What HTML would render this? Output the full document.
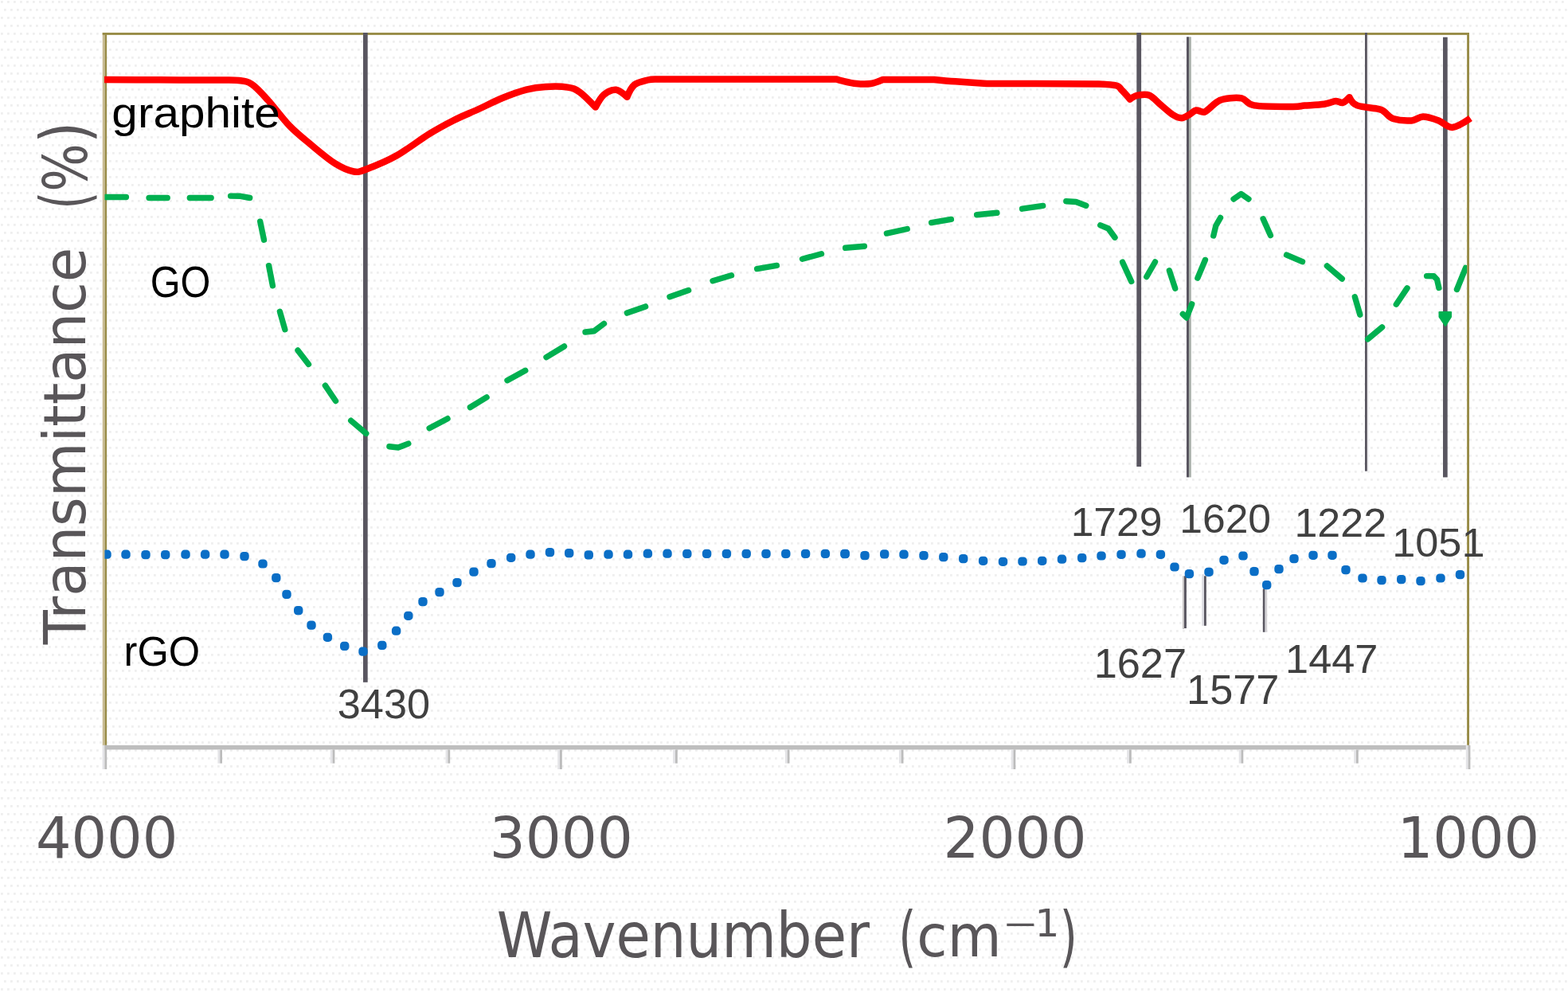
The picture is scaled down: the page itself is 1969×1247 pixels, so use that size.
<!DOCTYPE html>
<html><head><meta charset="utf-8"><title>FTIR spectra</title>
<style>
html,body{margin:0;padding:0;background:#fff;}
body{width:1969px;height:1247px;overflow:hidden;}
svg{display:block;}
text{font-family:"Liberation Sans",sans-serif;}
text.ax{font-family:"DejaVu Sans Condensed","DejaVu Sans","Liberation Sans",sans-serif;font-stretch:condensed;}
</style></head><body>
<svg width="1969" height="1247" viewBox="0 0 1969 1247">
<defs><clipPath id="plot"><rect x="131.5" y="44" width="1710.6" height="892"/></clipPath>
<pattern id="dither" width="16" height="20" patternUnits="userSpaceOnUse"><rect x="1" y="1" width="2.8" height="2.8" fill="#efefef"/><rect x="9" y="1" width="2.8" height="2.8" fill="#efefef"/><rect x="5" y="11" width="2.8" height="2.8" fill="#efefef"/><rect x="13" y="11" width="2.8" height="2.8" fill="#efefef"/></pattern></defs>
<rect width="1969" height="1247" fill="#ffffff"/>
<rect width="1969" height="1247" fill="url(#dither)"/>

<g shape-rendering="auto">
<rect x="128.70" y="41.00" width="2.80" height="895.00" fill="#c9bc94"/>
<rect x="131.50" y="41.00" width="2.60" height="895.00" fill="#998c48"/>
<rect x="128.70" y="41.00" width="1716.30" height="2.90" fill="#988c47"/>
<rect x="1842.10" y="41.00" width="2.90" height="895.00" fill="#988c47"/>
<rect x="131.50" y="935.80" width="1713.50" height="5.60" fill="#bebebe"/>
<rect x="128.60" y="935.80" width="2.80" height="30.20" fill="#e4e4e7"/>
<rect x="131.40" y="935.80" width="2.80" height="30.20" fill="#bcbcbc"/>
<rect x="273.40" y="941.40" width="2.80" height="17.20" fill="#e4e4e7"/>
<rect x="276.20" y="941.40" width="2.80" height="17.20" fill="#bcbcbc"/>
<rect x="414.80" y="941.40" width="2.80" height="17.20" fill="#e4e4e7"/>
<rect x="417.60" y="941.40" width="2.80" height="17.20" fill="#bcbcbc"/>
<rect x="559.60" y="941.40" width="2.80" height="17.20" fill="#e4e4e7"/>
<rect x="562.40" y="941.40" width="2.80" height="17.20" fill="#bcbcbc"/>
<rect x="700.20" y="941.40" width="2.80" height="24.60" fill="#e4e4e7"/>
<rect x="703.00" y="941.40" width="2.80" height="24.60" fill="#bcbcbc"/>
<rect x="845.20" y="941.40" width="2.80" height="17.20" fill="#e4e4e7"/>
<rect x="848.00" y="941.40" width="2.80" height="17.20" fill="#bcbcbc"/>
<rect x="985.90" y="941.40" width="2.80" height="17.20" fill="#e4e4e7"/>
<rect x="988.70" y="941.40" width="2.80" height="17.20" fill="#bcbcbc"/>
<rect x="1128.90" y="941.40" width="2.80" height="17.20" fill="#e4e4e7"/>
<rect x="1131.70" y="941.40" width="2.80" height="17.20" fill="#bcbcbc"/>
<rect x="1269.70" y="941.40" width="2.80" height="24.60" fill="#e4e4e7"/>
<rect x="1272.50" y="941.40" width="2.80" height="24.60" fill="#bcbcbc"/>
<rect x="1415.20" y="941.40" width="2.80" height="17.20" fill="#e4e4e7"/>
<rect x="1418.00" y="941.40" width="2.80" height="17.20" fill="#bcbcbc"/>
<rect x="1555.70" y="941.40" width="2.80" height="17.20" fill="#e4e4e7"/>
<rect x="1558.50" y="941.40" width="2.80" height="17.20" fill="#bcbcbc"/>
<rect x="1700.20" y="941.40" width="2.80" height="17.20" fill="#e4e4e7"/>
<rect x="1703.00" y="941.40" width="2.80" height="17.20" fill="#bcbcbc"/>
<rect x="1840.80" y="935.80" width="2.80" height="30.20" fill="#e4e4e7"/>
<rect x="1843.60" y="935.80" width="2.80" height="30.20" fill="#bcbcbc"/>
<rect x="456.00" y="41.00" width="5.70" height="815.80" fill="#595660"/>
<rect x="1427.30" y="41.00" width="5.80" height="545.00" fill="#595660"/>
<rect x="1490.00" y="46.30" width="3.00" height="553.10" fill="#595660"/>
<rect x="1493.00" y="46.30" width="2.80" height="553.10" fill="#a9b0aa"/>
<rect x="1714.00" y="41.00" width="2.90" height="550.70" fill="#595660"/>
<rect x="1716.90" y="44.00" width="2.10" height="547.70" fill="#f0f0f2"/>
<rect x="1812.00" y="46.70" width="5.70" height="552.70" fill="#595660"/>
<rect x="1484.90" y="723.30" width="2.10" height="66.70" fill="#c9c6c6"/>
<rect x="1487.00" y="723.30" width="2.90" height="65.70" fill="#595660"/>
<rect x="1509.20" y="721.20" width="2.80" height="64.60" fill="#dcdce2"/>
<rect x="1512.00" y="723.30" width="2.80" height="62.50" fill="#595660"/>
<rect x="1585.80" y="739.40" width="2.80" height="54.40" fill="#595660"/>
<rect x="1588.60" y="739.40" width="2.60" height="54.40" fill="#d4d2d6"/>
</g>
<path d="M131.0,100.0 C131.0,100.0 176.8,100.2 200.0,100.3 C223.2,100.4 253.4,100.5 270.0,100.6 C286.6,100.7 291.9,100.1 299.7,101.0 C307.4,101.9 310.3,101.8 316.5,106.0 C322.7,110.2 328.8,117.3 336.7,126.0 C344.6,134.7 354.6,148.7 363.6,158.0 C372.6,167.3 381.1,173.9 390.6,181.8 C400.2,189.7 411.9,199.8 420.9,205.4 C429.9,211.0 437.7,214.4 444.4,215.5 C451.1,216.6 452.3,215.4 461.3,212.0 C470.3,208.6 485.4,202.6 498.3,195.3 C511.2,188.0 526.8,175.8 538.7,168.4 C550.7,161.0 559.8,156.2 570.0,151.0 C580.2,145.8 589.9,142.1 600.0,137.5 C610.1,132.9 620.4,127.4 630.5,123.3 C640.6,119.2 651.8,115.1 660.9,112.7 C670.0,110.3 676.7,109.5 685.3,109.0 C693.9,108.5 705.6,108.5 712.7,109.6 C719.8,110.7 722.1,111.5 728.0,115.7 C733.9,119.9 747.8,134.6 747.8,134.6 C747.8,134.6 754.2,122.4 758.5,118.8 C762.8,115.2 768.9,112.2 773.7,112.7 C778.5,113.2 787.4,121.8 787.4,121.8 C787.4,121.8 792.2,110.1 796.5,106.6 C800.8,103.0 808.5,101.7 813.3,100.5 C818.1,99.3 825.5,99.6 825.5,99.6 C825.5,99.6 1000.0,99.6 1000.0,99.6 C1000.0,99.6 1051.0,99.6 1051.0,99.6 C1051.0,99.6 1052.9,100.5 1057.0,101.4 C1061.1,102.3 1069.3,104.4 1075.4,105.0 C1081.5,105.6 1088.0,105.8 1093.6,105.0 C1099.2,104.2 1108.9,99.9 1108.9,99.9 C1108.9,99.9 1172.9,99.9 1172.9,99.9 C1172.9,99.9 1189.0,101.5 1200.0,102.3 C1211.0,103.1 1239.0,105.0 1239.0,105.0 C1239.0,105.0 1300.0,105.0 1300.0,105.0 C1300.0,105.0 1380.0,105.5 1380.0,105.5 C1380.0,105.5 1397.2,106.2 1402.0,107.5 C1406.8,108.8 1406.2,110.8 1409.0,113.6 C1411.8,116.4 1419.0,124.6 1419.0,124.6 C1419.0,124.6 1424.7,120.5 1428.8,119.7 C1432.9,118.9 1438.5,117.7 1443.4,119.7 C1448.3,121.8 1453.1,128.0 1458.0,132.0 C1462.9,136.1 1468.3,141.3 1472.6,144.0 C1476.9,146.7 1480.1,148.2 1483.6,148.2 C1487.1,148.2 1490.3,145.6 1493.4,144.0 C1496.5,142.4 1498.8,139.1 1502.0,138.5 C1505.2,137.9 1508.9,141.9 1512.9,140.4 C1517.0,138.9 1522.5,132.1 1526.3,129.5 C1530.1,126.9 1530.5,125.6 1536.0,124.6 C1541.5,123.6 1552.7,122.1 1559.2,123.4 C1565.7,124.7 1564.2,130.7 1575.0,132.4 C1585.8,134.2 1613.2,133.9 1623.8,133.9 C1634.4,133.9 1631.9,133.1 1638.4,132.6 C1644.9,132.1 1656.3,131.6 1662.8,130.7 C1669.3,129.8 1673.5,127.3 1677.4,127.0 C1681.3,126.7 1683.2,129.8 1686.0,129.0 C1688.8,128.2 1694.5,122.2 1694.5,122.2 C1694.5,122.2 1698.1,130.0 1704.2,132.4 C1710.3,134.8 1725.3,135.5 1731.0,136.8 C1736.7,138.1 1735.4,138.4 1738.4,140.4 C1741.5,142.4 1743.6,147.2 1749.3,149.0 C1755.0,150.8 1766.2,151.8 1772.5,151.4 C1778.8,151.0 1781.4,146.5 1787.1,146.5 C1792.8,146.5 1800.5,149.2 1806.6,151.4 C1812.7,153.7 1817.0,160.5 1823.7,160.0 C1830.4,159.5 1846.5,148.5 1846.5,148.5" fill="none" stroke="#ff0000" stroke-width="8.5" stroke-linejoin="round" stroke-linecap="butt"/>
<g clip-path="url(#plot)">
<g fill="none" stroke="#00b050" stroke-width="7.4" stroke-linecap="round" stroke-linejoin="round">
<path d="M132.1,247.5 L158.4,247.5"/>
<path d="M187.1,248.5 L210.2,248.5"/>
<path d="M238.3,248.5 L265.1,248.5"/>
<path d="M289.6,246.1 L302.0,246.3 L313.7,248.5"/>
<path d="M326.7,278.2 L331.5,301.2"/>
<path d="M337.6,333.7 L342.4,358.8"/>
<path d="M351.4,391.3 L357.8,413.7"/>
<path d="M374.0,440.0 L387.5,457.4"/>
<path d="M408.4,484.2 L421.5,503.5"/>
<path d="M440.7,528.2 L459.8,544.4"/>
<path d="M488.9,560.8 L500.0,562.0 L512.8,557.1"/>
<path d="M539.2,537.7 L562.0,525.7"/>
<path d="M590.4,511.5 L611.1,498.9"/>
<path d="M637.0,477.7 L659.7,465.3"/>
<path d="M686.0,448.7 L708.5,435.0"/>
<path d="M735.0,417.0 L746.0,415.8 L758.5,406.4"/>
<path d="M787.4,393.1 L810.6,384.9"/>
<path d="M841.0,372.8 L864.6,364.5"/>
<path d="M895.0,352.8 L918.5,345.7"/>
<path d="M950.6,337.6 L975.4,333.4"/>
<path d="M1007.5,325.3 L1031.5,318.7"/>
<path d="M1061.6,311.3 L1085.4,309.2"/>
<path d="M1113.5,293.1 L1139.2,287.5"/>
<path d="M1169.6,279.6 L1194.4,275.4"/>
<path d="M1226.6,269.7 L1251.9,267.3"/>
<path d="M1283.6,262.2 L1309.7,258.4"/>
<path d="M1338.8,252.8 L1351.2,253.5 L1363.8,258.3"/>
<path d="M1381.8,282.8 L1391.8,287.0 L1400.0,298.2"/>
<path d="M1409.6,329.2 L1420.7,353.5"/>
<path d="M1439.8,347.5 L1450.5,329.0"/>
<path d="M1468.4,339.8 L1475.7,362.2"/>
<path d="M1485.3,394.3 L1490.0,399.0 L1496.7,381.9"/>
<path d="M1503.9,349.1 L1513.4,326.5"/>
<path d="M1523.8,296.0 L1526.8,283.5 L1532.5,273.5"/>
<path d="M1549.1,250.0 L1558.5,243.5 L1567.9,250.0"/>
<path d="M1586.1,274.8 L1595.4,295.6"/>
<path d="M1615.6,320.1 L1635.5,328.7"/>
<path d="M1666.4,334.0 L1685.3,350.1"/>
<path d="M1701.3,372.8 L1707.8,395.1"/>
<path d="M1717.6,425.9 L1735.6,410.8"/>
<path d="M1753.3,382.2 L1767.0,361.9"/>
<path d="M1791.6,346.6 L1800.5,346.8 L1804.5,351.0 L1806.9,361.5"/>
<path d="M1829.5,363.5 L1840.5,336.4"/>
</g>
<path d="M1807.5,392 L1822,392 L1822,398 L1815,409 L1807.5,398 Z" fill="#00b050" stroke="#00b050" stroke-width="2" stroke-linejoin="round"/>
<g fill="#0a6ec6">
<rect x="128.3" y="690.6" width="11.4" height="11.2" rx="4.4"/>
<rect x="152.3" y="690.6" width="11.4" height="11.2" rx="4.4"/>
<rect x="177.3" y="691.0" width="11.4" height="11.2" rx="4.4"/>
<rect x="202.0" y="691.0" width="11.4" height="11.2" rx="4.4"/>
<rect x="227.3" y="690.6" width="11.4" height="11.2" rx="4.4"/>
<rect x="251.9" y="690.6" width="11.4" height="11.2" rx="4.4"/>
<rect x="276.3" y="690.6" width="11.4" height="11.2" rx="4.4"/>
<rect x="301.3" y="693.0" width="11.4" height="11.2" rx="4.4"/>
<rect x="324.3" y="702.4" width="11.4" height="11.2" rx="4.4"/>
<rect x="341.1" y="720.0" width="11.4" height="11.2" rx="4.4"/>
<rect x="354.3" y="740.8" width="11.4" height="11.2" rx="4.4"/>
<rect x="369.0" y="761.0" width="11.4" height="11.2" rx="4.4"/>
<rect x="385.3" y="779.5" width="11.4" height="11.2" rx="4.4"/>
<rect x="405.7" y="794.7" width="11.4" height="11.2" rx="4.4"/>
<rect x="427.0" y="805.8" width="11.4" height="11.2" rx="4.4"/>
<rect x="450.3" y="812.5" width="11.4" height="11.2" rx="4.4"/>
<rect x="474.1" y="804.8" width="11.4" height="11.2" rx="4.4"/>
<rect x="491.9" y="786.6" width="11.4" height="11.2" rx="4.4"/>
<rect x="507.1" y="767.7" width="11.4" height="11.2" rx="4.4"/>
<rect x="525.3" y="750.0" width="11.4" height="11.2" rx="4.4"/>
<rect x="546.3" y="738.0" width="11.4" height="11.2" rx="4.4"/>
<rect x="568.3" y="726.0" width="11.4" height="11.2" rx="4.4"/>
<rect x="589.3" y="712.5" width="11.4" height="11.2" rx="4.4"/>
<rect x="611.3" y="702.0" width="11.4" height="11.2" rx="4.4"/>
<rect x="636.0" y="694.7" width="11.4" height="11.2" rx="4.4"/>
<rect x="660.3" y="690.6" width="11.4" height="11.2" rx="4.4"/>
<rect x="684.8" y="688.0" width="11.4" height="11.2" rx="4.4"/>
<rect x="709.0" y="689.0" width="11.4" height="11.2" rx="4.4"/>
<rect x="733.6" y="691.3" width="11.4" height="11.2" rx="4.4"/>
<rect x="758.3" y="690.6" width="11.4" height="11.2" rx="4.4"/>
<rect x="782.8" y="690.6" width="11.4" height="11.2" rx="4.4"/>
<rect x="807.7" y="689.6" width="11.4" height="11.2" rx="4.4"/>
<rect x="832.3" y="689.6" width="11.4" height="11.2" rx="4.4"/>
<rect x="857.1" y="689.8" width="11.4" height="11.2" rx="4.4"/>
<rect x="881.9" y="689.8" width="11.4" height="11.2" rx="4.4"/>
<rect x="906.7" y="689.8" width="11.4" height="11.2" rx="4.4"/>
<rect x="931.5" y="689.8" width="11.4" height="11.2" rx="4.4"/>
<rect x="956.3" y="689.8" width="11.4" height="11.2" rx="4.4"/>
<rect x="981.1" y="689.8" width="11.4" height="11.2" rx="4.4"/>
<rect x="1005.9" y="689.8" width="11.4" height="11.2" rx="4.4"/>
<rect x="1030.7" y="689.8" width="11.4" height="11.2" rx="4.4"/>
<rect x="1055.5" y="689.8" width="11.4" height="11.2" rx="4.4"/>
<rect x="1055.3" y="690.0" width="11.4" height="11.2" rx="4.4"/>
<rect x="1080.3" y="692.0" width="11.4" height="11.2" rx="4.4"/>
<rect x="1105.0" y="690.3" width="11.4" height="11.2" rx="4.4"/>
<rect x="1129.3" y="690.6" width="11.4" height="11.2" rx="4.4"/>
<rect x="1154.3" y="692.0" width="11.4" height="11.2" rx="4.4"/>
<rect x="1179.1" y="694.0" width="11.4" height="11.2" rx="4.4"/>
<rect x="1204.0" y="696.0" width="11.4" height="11.2" rx="4.4"/>
<rect x="1228.9" y="698.7" width="11.4" height="11.2" rx="4.4"/>
<rect x="1253.8" y="699.7" width="11.4" height="11.2" rx="4.4"/>
<rect x="1278.3" y="699.4" width="11.4" height="11.2" rx="4.4"/>
<rect x="1303.0" y="698.7" width="11.4" height="11.2" rx="4.4"/>
<rect x="1327.8" y="696.6" width="11.4" height="11.2" rx="4.4"/>
<rect x="1353.0" y="695.0" width="11.4" height="11.2" rx="4.4"/>
<rect x="1377.3" y="692.4" width="11.4" height="11.2" rx="4.4"/>
<rect x="1402.3" y="690.7" width="11.4" height="11.2" rx="4.4"/>
<rect x="1427.3" y="689.6" width="11.4" height="11.2" rx="4.4"/>
<rect x="1451.7" y="690.7" width="11.4" height="11.2" rx="4.4"/>
<rect x="1469.3" y="706.4" width="11.4" height="11.2" rx="4.4"/>
<rect x="1487.7" y="715.0" width="11.4" height="11.2" rx="4.4"/>
<rect x="1512.3" y="712.7" width="11.4" height="11.2" rx="4.4"/>
<rect x="1531.3" y="697.7" width="11.4" height="11.2" rx="4.4"/>
<rect x="1555.3" y="692.4" width="11.4" height="11.2" rx="4.4"/>
<rect x="1569.3" y="712.0" width="11.4" height="11.2" rx="4.4"/>
<rect x="1585.0" y="729.0" width="11.4" height="11.2" rx="4.4"/>
<rect x="1600.3" y="709.0" width="11.4" height="11.2" rx="4.4"/>
<rect x="1619.3" y="696.0" width="11.4" height="11.2" rx="4.4"/>
<rect x="1643.3" y="691.7" width="11.4" height="11.2" rx="4.4"/>
<rect x="1667.3" y="691.7" width="11.4" height="11.2" rx="4.4"/>
<rect x="1684.3" y="710.0" width="11.4" height="11.2" rx="4.4"/>
<rect x="1705.3" y="720.4" width="11.4" height="11.2" rx="4.4"/>
<rect x="1729.3" y="723.0" width="11.4" height="11.2" rx="4.4"/>
<rect x="1754.0" y="722.0" width="11.4" height="11.2" rx="4.4"/>
<rect x="1778.3" y="724.0" width="11.4" height="11.2" rx="4.4"/>
<rect x="1803.3" y="720.4" width="11.4" height="11.2" rx="4.4"/>
<rect x="1827.8" y="716.0" width="11.4" height="11.2" rx="4.4"/>
</g>
</g>
<text transform="translate(140.37,160.13) scale(0.5850,0.5424)" font-size="100" fill="#000">graphite</text>
<text transform="translate(188.72,372.54) scale(0.4866,0.5510)" font-size="100" fill="#000">GO</text>
<text transform="translate(155.54,835.70) scale(0.5060,0.5092)" font-size="100" fill="#000">rGO</text>
<text class="ax" transform="translate(44.97,1076.79) scale(0.7787,0.7092)" font-size="100" fill="#595659">4000</text>
<text class="ax" transform="translate(614.78,1076.79) scale(0.7867,0.7092)" font-size="100" fill="#595659">3000</text>
<text class="ax" transform="translate(1184.38,1076.79) scale(0.7867,0.7092)" font-size="100" fill="#595659">2000</text>
<text class="ax" transform="translate(1754.69,1076.79) scale(0.7795,0.7092)" font-size="100" fill="#595659">1000</text>
<text class="ax" transform="translate(623.78,1201.57) scale(0.7838,0.7846)" font-size="100" fill="#595659">Wavenumber</text>
<text class="ax" transform="translate(1128.36,1204.97) scale(0.6309,0.8342)" font-size="100" fill="#595659">(</text>
<text class="ax" transform="translate(1151.37,1201.16) scale(0.7744,0.7265)" font-size="100" fill="#595659">cm</text>
<text class="ax" transform="translate(1258.34,1172.92) scale(0.6037,0.3733)" font-size="100" fill="#595659">−</text>
<text class="ax" transform="translate(1299.55,1176.00) scale(0.5391,0.4752)" font-size="100" fill="#595659">1</text>
<text class="ax" transform="translate(1330.76,1204.97) scale(0.6309,0.8342)" font-size="100" fill="#595659">)</text>
<text class="ax" transform="translate(107.16,809.28) rotate(-90) scale(0.7836,0.7296)" font-size="100" fill="#595659">Transmittance</text>
<text class="ax" transform="translate(111.09,262.74) rotate(-90) scale(0.6309,0.8397)" font-size="100" fill="#595659">(</text>
<text class="ax" transform="translate(108.80,240.81) rotate(-90) scale(0.7066,0.7667)" font-size="100" fill="#595659">%</text>
<text class="ax" transform="translate(111.09,179.77) rotate(-90) scale(0.7634,0.8397)" font-size="100" fill="#595659">)</text>
<text transform="translate(1344.65,673.20) scale(0.5160,0.4921)" font-size="100" fill="#404040">1729</text>
<text transform="translate(1481.25,668.70) scale(0.5160,0.4992)" font-size="100" fill="#404040">1620</text>
<text transform="translate(1625.45,673.60) scale(0.5196,0.4978)" font-size="100" fill="#404040">1222</text>
<text transform="translate(1748.15,698.70) scale(0.5232,0.4992)" font-size="100" fill="#404040">1051</text>
<text transform="translate(1373.65,851.00) scale(0.5232,0.5120)" font-size="100" fill="#404040">1627</text>
<text transform="translate(1490.05,883.60) scale(0.5232,0.5134)" font-size="100" fill="#404040">1577</text>
<text transform="translate(1614.05,845.00) scale(0.5232,0.5077)" font-size="100" fill="#404040">1447</text>
<text transform="translate(423.75,902.40) scale(0.5232,0.5177)" font-size="100" fill="#404040">3430</text>
</svg></body></html>
